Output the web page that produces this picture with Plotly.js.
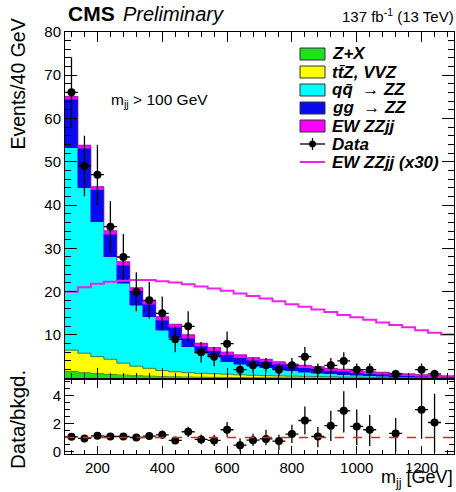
<!DOCTYPE html>
<html><head><meta charset="utf-8">
<script src="https://cdn.plot.ly/plotly-3.0.1.min.js"></script>
<style>html,body{margin:0;padding:0;background:#fff}#chart{width:456px;height:492px}</style>
</head><body><div id="chart"></div>
<script>
// ---- data ----
const binCenters = [120,160,200,240,280,320,360,400,440,480,520,560,600,640,680,720,760,800,840,880,920,960,1000,1040,1080,1120,1160,1200,1240,1280];
const binHalfWidth = 20;
const zPlusX = [1.6,1.3,1.1,0.9,0.75,0.6,0.5,0.4,0.35,0.3,0.25,0.22,0.2,0.18,0.15,0.13,0.12,0.1,0.09,0.08,0.07,0.06,0.05,0.05,0.04,0.04,0.03,0.03,0.02,0.02];
const ttZVVZ = [4.9,4.5,3.9,3.5,2.75,2.2,1.8,1.4,1.15,1.0,0.9,0.83,0.75,0.62,0.55,0.47,0.43,0.4,0.36,0.32,0.28,0.24,0.23,0.2,0.16,0.14,0.12,0.1,0.08,0.06];
const qqZZ = [46.7,38.2,31.1,23.7,18.4,14.1,11.9,9.3,7.7,6.0,4.65,3.95,2.85,2.4,2.1,1.85,1.55,1.2,0.95,0.75,0.65,0.55,0.42,0.35,0.3,0.22,0.18,0.14,0.12,0.1];
const ggZZ = [11.2,9.1,7.4,5.2,4.25,3.25,2.95,2.35,2.55,2.0,1.6,1.4,1.6,1.55,1.37,1.34,1.11,1.03,1.05,1.02,0.79,0.76,0.58,0.45,0.47,0.34,0.28,0.21,0.13,0.03];
const ewZZjj = [0.67,0.70,0.73,0.74,0.75,0.76,0.76,0.75,0.74,0.72,0.71,0.69,0.67,0.65,0.63,0.61,0.59,0.57,0.55,0.53,0.51,0.49,0.47,0.45,0.43,0.41,0.39,0.37,0.35,0.34];
const ewZZjjX30 = [20.0,21.0,21.8,22.3,22.5,22.7,22.7,22.4,22.1,21.7,21.2,20.7,20.2,19.6,19.0,18.4,17.8,17.1,16.5,15.9,15.3,14.6,14.1,13.5,12.9,12.3,11.8,11.1,10.5,10.1];
const dataCounts = [66,49,47,35,28,20,18,15,9,12,6,5,8,2,3,3,2,3,5,2,3,4,2,2,0,1,0,2,1,0];
const dataErr = [8.1,7.0,6.9,5.9,5.3,4.5,4.2,3.9,3.0,3.5,2.4,2.2,2.8,1.4,1.7,1.7,1.4,1.7,2.2,1.4,1.7,2.0,1.4,1.4,0,1.0,0,1.4,1.0,0];
const ratioVals = [1.05,0.93,1.12,1.07,1.07,1.0,1.1,1.19,0.79,1.41,0.86,0.79,1.55,0.45,0.81,0.9,0.74,1.24,2.21,1.07,1.84,2.9,1.79,1.55,null,1.29,null,2.98,2.07,null];
const ratioErrUp = [0.13,0.13,0.15,0.18,0.2,0.22,0.25,0.3,0.25,0.36,0.35,0.4,0.55,0.5,0.46,0.65,0.46,0.66,1.0,0.68,1.06,1.4,1.21,1.05,0,1.1,0,2.2,2.05,0];
const ratioErrDown = [0.13,0.13,0.15,0.18,0.2,0.22,0.25,0.3,0.25,0.4,0.35,0.39,0.5,0.45,0.41,0.45,0.64,0.64,1.0,0.77,1.09,1.55,1.34,1.15,0,1.29,0,2.08,2.1,0];
const legendLabels = ['Z+X','tt\u0304Z, VVZ','qq\u0304  \u2192 ZZ','gg  \u2192 ZZ','EW ZZjj','Data','EW ZZjj (x30)'];
const xTickVals = [200,400,600,800,1000,1200];
const yTickVals = [10,20,30,40,50,60,70,80];
const ratioTickVals = [0,2,4];

// ---- styling ----
const FONT = 'Liberation Sans, Arial, sans-serif';
const W = 456, H = 492;
const px = x => x / W, py = y => 1 - y / H;
const colors = {zx:'#1fe01f', tt:'#ffff00', qq:'#00ffff', gg:'#0a0af0', ew:'#ff00ff', ewLine:'#ee22ee'};

const edges = binCenters.map(c => c - binHalfWidth).concat([binCenters[binCenters.length-1] + binHalfWidth]);
function stepY(vals){ return vals.concat([vals[vals.length-1]]); }
function cum(arrs){ return arrs[0].map((_,i)=>arrs.reduce((s,a)=>s+a[i],0)); }

const traces = [];
function bar(vals, color){
  return {type:'bar', x:binCenters, y:vals, width:2*binHalfWidth, xaxis:'x2', yaxis:'y2',
    marker:{color:color, line:{color:color, width:0.5}}, hoverinfo:'skip', showlegend:false};
}
traces.push(bar(zPlusX, colors.zx));
traces.push(bar(ttZVVZ, colors.tt));
traces.push(bar(qqZZ, colors.qq));
traces.push(bar(ggZZ, colors.gg));
traces.push(bar(ewZZjj, colors.ew));
const levels = [
  {v:cum([zPlusX]), c:'#1a7a1a'},
  {v:cum([zPlusX,ttZVVZ]), c:'#55552a'},
  {v:cum([zPlusX,ttZVVZ,qqZZ,ggZZ,ewZZjj]), c:'#7a2a9a'}
];
levels.forEach(l => traces.push({type:'scatter', mode:'lines', x:edges, y:stepY(l.v), xaxis:'x2', yaxis:'y2',
  line:{shape:'hv', color:l.c, width:0.8}, hoverinfo:'skip', showlegend:false}));
traces.push({type:'scatter', mode:'lines', x:edges, y:stepY(ewZZjjX30), xaxis:'x2', yaxis:'y2',
  line:{shape:'hv', color:colors.ewLine, width:2}, hoverinfo:'skip', showlegend:false});
const dx=[], dy=[], de=[];
dataCounts.forEach((n,i)=>{ if(n>0){ dx.push(binCenters[i]); dy.push(n); de.push(dataErr[i]); } });
traces.push({type:'scatter', mode:'markers', x:dx, y:dy, xaxis:'x2', yaxis:'y2',
  marker:{color:'black', size:8},
  error_y:{type:'data', array:de, color:'black', thickness:1.3, width:0},
  error_x:{type:'constant', value:binHalfWidth, color:'black', thickness:1.3, width:0},
  hoverinfo:'skip', showlegend:false});
const rx=[], ry=[], ru=[], rd=[];
ratioVals.forEach((r,i)=>{ if(r!==null){ rx.push(binCenters[i]); ry.push(r); ru.push(ratioErrUp[i]); rd.push(ratioErrDown[i]); } });
traces.push({type:'scatter', mode:'markers', x:rx, y:ry, xaxis:'x', yaxis:'y',
  marker:{color:'black', size:8},
  error_y:{type:'data', symmetric:false, array:ru, arrayminus:rd, color:'black', thickness:1.3, width:0},
  error_x:{type:'constant', value:binHalfWidth, color:'black', thickness:1.3, width:0},
  hoverinfo:'skip', showlegend:false});

const xDomain = [px(65), px(454)];
const baseAxis = {showline:true, linecolor:'black', linewidth:1, mirror:'ticks', ticks:'inside',
  tickcolor:'black', showgrid:false, zeroline:false, tickfont:{family:FONT, size:15, color:'black'}};

const shapes = [
  {type:'line', xref:'x', yref:'y', x0:edges[0], x1:edges[edges.length-1], y0:1, y1:1,
   line:{color:'#ff1a1a', width:1.5, dash:'dash'}, layer:'above'}
];
const annotations = [];
const legendColors = [colors.zx, colors.tt, colors.qq, colors.gg, colors.ew];
const legTop = 54, legStep = 18, boxL = 300, boxR = 325, textX = 330;
legendLabels.forEach((lab,i)=>{
  const yc = legTop + i*legStep;
  if(i < 5){
    shapes.push({type:'rect', xref:'paper', yref:'paper', x0:px(boxL), x1:px(boxR), y0:py(yc-6), y1:py(yc+6),
      fillcolor:legendColors[i], line:{color:'#333', width:1}});
  } else if(i === 5){
    shapes.push({type:'line', xref:'paper', yref:'paper', x0:px(boxL), x1:px(boxR), y0:py(yc), y1:py(yc), line:{color:'black', width:1.3}});
    shapes.push({type:'line', xref:'paper', yref:'paper', x0:px(312.5), x1:px(312.5), y0:py(yc-6), y1:py(yc+6), line:{color:'black', width:1.3}});
    shapes.push({type:'circle', xref:'paper', yref:'paper', x0:px(309.5), x1:px(315.5), y0:py(yc-3), y1:py(yc+3), fillcolor:'black', line:{color:'black', width:1}});
  } else {
    shapes.push({type:'line', xref:'paper', yref:'paper', x0:px(boxL), x1:px(boxR), y0:py(yc), y1:py(yc), line:{color:colors.ewLine, width:2}});
  }
  annotations.push({xref:'paper', yref:'paper', x:px(textX), y:py(yc), xanchor:'left', yanchor:'middle',
    text:'<b><i>'+lab+'</i></b>', showarrow:false, font:{family:FONT, size:17, color:'black'}});
});
annotations.push(
  {xref:'paper', yref:'paper', x:px(66), y:py(14), xanchor:'left', yanchor:'middle', showarrow:false,
   text:'<b>CMS</b>', font:{family:FONT, size:21, color:'black'}},
  {xref:'paper', yref:'paper', x:px(121), y:py(14), xanchor:'left', yanchor:'middle', showarrow:false,
   text:'<i>Preliminary</i>', font:{family:FONT, size:20, color:'black'}},
  {xref:'paper', yref:'paper', x:px(456), y:py(16), xanchor:'right', yanchor:'middle', showarrow:false,
   text:'137 fb<sup>-1</sup> (13 TeV)', font:{family:FONT, size:15, color:'black'}},
  {xref:'paper', yref:'paper', x:px(109), y:py(100), xanchor:'left', yanchor:'middle', showarrow:false,
   text:'m<sub>jj</sub> > 100 GeV', font:{family:FONT, size:15.5, color:'black'}},
  {xref:'paper', yref:'paper', x:px(17), y:py(17), xanchor:'center', yanchor:'top', textangle:-90, showarrow:false,
   text:'Events/40 GeV', font:{family:FONT, size:19.5, color:'black'}},
  {xref:'paper', yref:'paper', x:px(17), y:py(420), xanchor:'center', yanchor:'middle', textangle:-90, showarrow:false,
   text:'Data/bkgd.', font:{family:FONT, size:20.5, color:'black'}},
  {xref:'paper', yref:'paper', x:px(455), y:py(491.5), xanchor:'right', yanchor:'bottom', showarrow:false,
   text:'m<sub>jj</sub> [GeV]', font:{family:FONT, size:18, color:'black'}}
);

const layout = {
  width:W, height:H, margin:{l:0, r:0, t:0, b:0}, paper_bgcolor:'white', plot_bgcolor:'white',
  barmode:'stack', bargap:0, showlegend:false,
  xaxis: Object.assign({}, baseAxis, {domain:xDomain, anchor:'y', range:[edges[0], edges[edges.length-1]],
    tickmode:'array', tickvals:xTickVals, ticklen:8,
    minor:{tickmode:'linear', tick0:0, dtick:40, ticklen:4, ticks:'inside', tickcolor:'black'}}),
  xaxis2: Object.assign({}, baseAxis, {domain:xDomain, anchor:'y2', matches:'x', showticklabels:false,
    tickmode:'array', tickvals:xTickVals, ticklen:10,
    minor:{tickmode:'linear', tick0:0, dtick:40, ticklen:5, ticks:'inside', tickcolor:'black'}}),
  yaxis: Object.assign({}, baseAxis, {domain:[py(454.3), py(380)], anchor:'x', range:[-0.2, 5.1],
    tickmode:'array', tickvals:ratioTickVals, ticklen:9,
    minor:{tickmode:'linear', tick0:0, dtick:0.5, ticklen:5, ticks:'inside', tickcolor:'black'}}),
  yaxis2: Object.assign({}, baseAxis, {domain:[py(378.3), py(31.7)], anchor:'x2', range:[0, 80],
    tickmode:'array', tickvals:yTickVals, ticklen:12,
    minor:{tickmode:'linear', tick0:0, dtick:2, ticklen:6, ticks:'inside', tickcolor:'black'}}),
  shapes:shapes, annotations:annotations
};
Plotly.newPlot('chart', traces, layout, {staticPlot:true, displayModeBar:false});
</script></body></html>
